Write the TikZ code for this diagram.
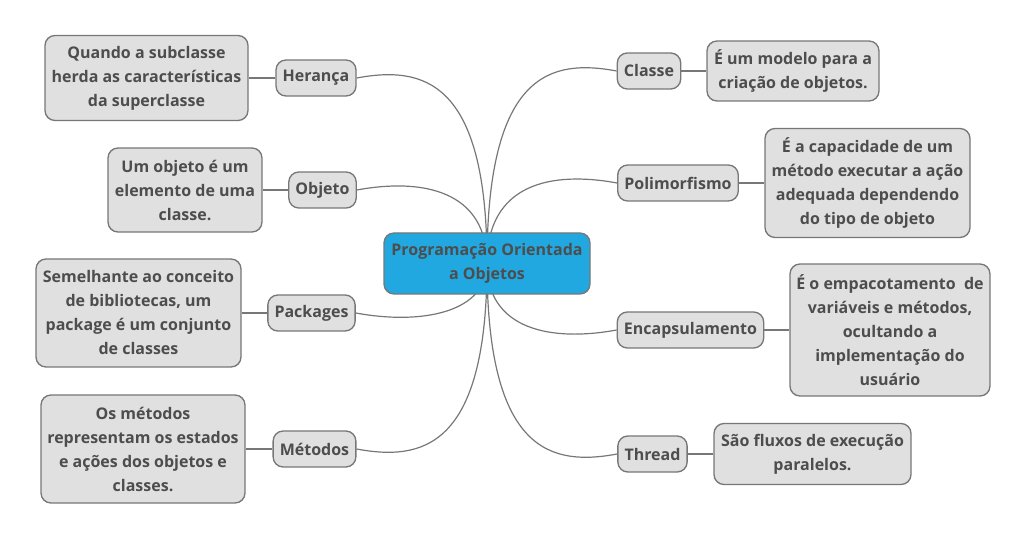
\documentclass[tikz,border=0pt]{standalone}
\usepackage{fontspec}
\setmainfont{Open Sans}
\usetikzlibrary{calc,backgrounds}
\definecolor{txtgray}{HTML}{4D4D4D}
\definecolor{boxgray}{HTML}{E0E0E0}
\definecolor{linegray}{HTML}{777777}
\definecolor{rootblue}{HTML}{21A8E0}
\begin{document}
\begin{tikzpicture}[x=0.75pt,y=-0.75pt,
	every node/.style={font=\fontsize{12}{18}\selectfont\bfseries,text=txtgray,align=center},
	rootbox/.style={draw=linegray,fill=rootblue,line width=1pt,rounded corners=7.5pt,minimum width=154.5pt,minimum height=45.75pt},
	topicbox/.style={draw=linegray,fill=boxgray,line width=1pt,rounded corners=7.5pt,inner xsep=5pt,minimum height=27pt},
	notebox/.style={draw=linegray,fill=boxgray,line width=1pt,rounded corners=7.5pt},
	link/.style={draw=linegray,line width=0.9pt}]
		\useasboundingbox (0,0) rectangle (1028,541);
		\node[rootbox] (poo) at (487,263.5) {Programação Orientada\\a Objetos};
		% left side
		\node[topicbox] (heranca) at (316,78) {Herança};
		\node[notebox,minimum width=152.25pt,minimum height=63.75pt] (herancatxt) at (146.5,78) {Quando a subclasse\\herda as características\\da superclasse};
		\node[topicbox] (objeto) at (322.5,190) {Objeto};
		\node[notebox,minimum width=115.5pt,minimum height=63pt] (objetotxt) at (185,190) {Um objeto é um\\elemento de uma\\classe.};
		\node[topicbox] (packages) at (311.5,313) {Packages};
		\node[notebox,minimum width=153.75pt,minimum height=81pt] (packagestxt) at (138.5,313) {Semelhante ao conceito\\de bibliotecas, um\\package é um conjunto\\de classes};
		\node[topicbox] (metodos) at (314.5,449) {Métodos};
		\node[notebox,minimum width=153pt,minimum height=81pt] (metodostxt) at (143,449) {Os métodos\\representam os estados\\e ações dos objetos e\\classes.};
		% right side
		\node[topicbox] (classe) at (649,71) {Classe};
		\node[notebox,minimum width=129pt,minimum height=45pt] (classetxt) at (793,71) {É um modelo para a\\criação de objetos.};
		\node[topicbox] (polimorfismo) at (678,183) {Polimorfismo};
		\node[notebox,minimum width=153.75pt,minimum height=81.75pt] (polimorfismotxt) at (867.5,183) {É a capacidade de um\\método executar a ação\\adequada dependendo\\do tipo de objeto};
		\node[topicbox] (encapsulamento) at (690.5,330) {Encapsulamento};
		\node[notebox,minimum width=150pt,minimum height=99pt] (encapsulamentotxt) at (890,330) {É o empacotamento\ \ de\\variáveis e métodos,\\ocultando a\\implementação do\\usuário};
		\node[topicbox] (thread) at (652.5,454) {Thread};
		\node[notebox,minimum width=147.75pt,minimum height=45.75pt] (threadtxt) at (812.5,454) {São fluxos de execução\\paralelos.};
		\begin{scope}[on background layer]
			\foreach \nn/\uu in {heranca/-12,objeto/-12,packages/12,metodos/12}
			{
				\draw[link] (poo.center) .. controls (poo.center |- \nn.east) and ($(\nn.east)+(65,\uu)$) .. (\nn.east);
				\draw[link] (\nn) -- (\nn txt);
			}
			\foreach \nn/\uu in {classe/-12,polimorfismo/-12,encapsulamento/12,thread/12}
			{
				\draw[link] (poo.center) .. controls (poo.center |- \nn.west) and ($(\nn.west)+(-65,\uu)$) .. (\nn.west);
				\draw[link] (\nn) -- (\nn txt);
			}
		\end{scope}
	\end{tikzpicture}
\end{document}
